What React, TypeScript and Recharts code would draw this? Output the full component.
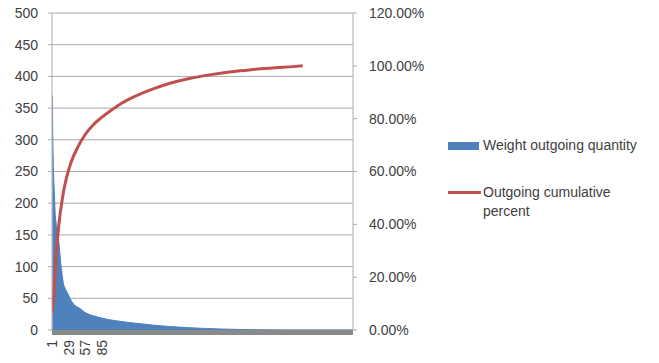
import React from 'react';
import {
  ComposedChart,
  Area,
  Line,
  XAxis,
  YAxis,
  CartesianGrid,
  ReferenceArea,
} from 'recharts';

// Weight outgoing quantity, read along the top edge of the blue columns
const WEIGHT_ITEMS = [1, 2, 3, 4, 5, 6, 8, 10, 12, 14, 16, 18, 20, 23, 26, 30, 34, 38, 42, 48, 56, 65, 80, 96, 110, 130, 150, 175, 200, 230, 260, 290, 320, 350, 380, 400, 512];
const WEIGHT_VALUES = [370, 290, 250, 225, 205, 180, 165, 155, 140, 120, 100, 85, 72, 65, 60, 52, 45, 40, 37, 34, 28, 24, 20, 16.5, 14.5, 12, 10, 7.5, 5.5, 3.8, 2.5, 1.5, 0.8, 0.3, 0.1, 0, 0];

// Outgoing cumulative percent (as a fraction)
const CUM_ITEMS = [1, 4, 7, 12, 19, 25, 33, 45, 57, 70, 85, 100, 115, 130, 150, 175, 200, 230, 260, 290, 320, 350, 380, 410, 427];
const CUM_VALUES = [0.065, 0.145, 0.26, 0.395, 0.51, 0.575, 0.635, 0.695, 0.74, 0.775, 0.805, 0.83, 0.853, 0.872, 0.893, 0.915, 0.933, 0.95, 0.963, 0.973, 0.981, 0.988, 0.993, 0.997, 1.0];

const X_TICKS = [1, 29, 57, 85];
const LEFT_TICKS = [0, 50, 100, 150, 200, 250, 300, 350, 400, 450, 500];
const RIGHT_TICKS = [0, 0.2, 0.4, 0.6, 0.8, 1.0, 1.2];
const ITEM_COUNT = 512;

const BLUE = '#4F81BD';
const RED = '#C0504D';
const GRID = '#ababab';
const TEXT = '#404040';
const FONT = '"Liberation Sans", Arial, sans-serif';

const weightData = WEIGHT_ITEMS.map((item, i) => ({ item, weight: WEIGHT_VALUES[i] }));
const cumData = CUM_ITEMS.map((item, i) => ({ item, cum: CUM_VALUES[i] }));

const XTick = ({ x, y, payload }: any) => (
  <text
    x={x}
    y={y}
    dy="0.35em"
    transform={`rotate(-90, ${x}, ${y})`}
    textAnchor="end"
    fill={TEXT}
    fontSize={14}
    fontFamily={FONT}
  >
    {payload.value}
  </text>
);

export default function App() {
  return (
    <div style={{ position: 'absolute', left: 0, top: 0, width: 659, height: 363, background: '#fff' }}>
      <ComposedChart
        width={659}
        height={363}
        margin={{ top: 13, right: 226, bottom: 5, left: 0 }}
      >
        <CartesianGrid yAxisId="left" vertical={false} stroke={GRID} />
        <XAxis
          dataKey="item"
          type="number"
          domain={[0.5, ITEM_COUNT + 0.5]}
          ticks={X_TICKS}
          allowDataOverflow
          axisLine={false}
          tickLine={false}
          tickSize={0}
          tickMargin={10}
          height={28}
          tick={<XTick />}
          interval={0}
        />
        <YAxis
          yAxisId="left"
          domain={[0, 500]}
          ticks={LEFT_TICKS}
          width={52}
          axisLine={{ stroke: GRID }}
          tickLine={{ stroke: GRID }}
          tickSize={4}
          tickMargin={10}
          tick={{ fill: TEXT, fontSize: 14, fontFamily: FONT }}
          interval={0}
        />
        <YAxis
          yAxisId="right"
          orientation="right"
          domain={[0, 1.2]}
          ticks={RIGHT_TICKS}
          width={80}
          axisLine={{ stroke: GRID }}
          tickLine={{ stroke: GRID }}
          tickSize={4}
          tickMargin={12}
          tick={{ fill: TEXT, fontSize: 14, fontFamily: FONT, textAnchor: 'start' }}
          tickFormatter={(v: number) => `${(v * 100).toFixed(2)}%`}
          interval={0}
        />
        <Area
          yAxisId="left"
          data={weightData}
          dataKey="weight"
          type="linear"
          fill={BLUE}
          fillOpacity={1}
          stroke={BLUE}
          strokeWidth={1}
          isAnimationActive={false}
        />
        <Line
          yAxisId="right"
          data={cumData}
          dataKey="cum"
          type="monotone"
          stroke={RED}
          strokeWidth={3}
          dot={false}
          isAnimationActive={false}
        />
        <ReferenceArea
          yAxisId="left"
          x1={0.5}
          x2={ITEM_COUNT + 0.5}
          y1={-8}
          y2={0}
          fill="#8a8a8a"
          fillOpacity={1}
          stroke="none"
          ifOverflow="visible"
        />
      </ComposedChart>
      <div style={{ position: 'absolute', left: 448, top: 136, fontFamily: FONT, fontSize: 14, color: TEXT, lineHeight: '19px' }}>
        <div style={{ display: 'flex', alignItems: 'center' }}>
          <span style={{ display: 'inline-block', width: 31, height: 8, background: BLUE, marginRight: 4 }} />
          <span>Weight outgoing quantity</span>
        </div>
        <div style={{ display: 'flex', alignItems: 'flex-start', marginTop: 28 }}>
          <span style={{ display: 'inline-block', width: 33, height: 3, background: RED, marginTop: 8, marginRight: 2 }} />
          <span>
            Outgoing cumulative
            <br />
            percent
          </span>
        </div>
      </div>
    </div>
  );
}
